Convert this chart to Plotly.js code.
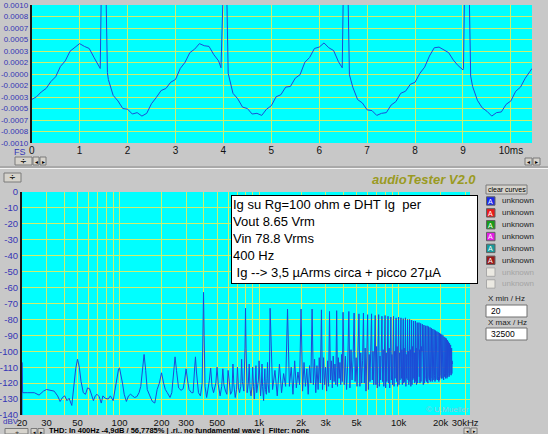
<!DOCTYPE html>
<html><head><meta charset="utf-8">
<script src="https://cdn.plot.ly/plotly-3.0.1.min.js"></script>
<style>html,body{margin:0;padding:0;background:#c8c8c8;overflow:hidden}</style>
</head><body><div id="chart" style="width:548px;height:434px"></div>
<script>
// ---------- top panel: time waveform (ms, A) ----------
const waveT = [
 0.0,0.1,0.2,0.3,0.4,0.5,0.6,0.7,0.8,0.9,
 1.0,1.1,1.2,1.3,1.4,1.43,1.46,1.50,1.54,1.58,
 1.6,1.7,1.8,1.9,2.0,2.1,2.2,2.3,2.4,2.5,
 2.6,2.7,2.8,2.9,3.0,3.1,3.2,3.3,3.4,3.5,
 3.6,3.7,3.8,3.9,3.95,3.98,4.02,4.06,4.10,4.2,
 4.3,4.4,4.5,4.6,4.7,4.8,4.9,5.0,5.1,5.2,
 5.3,5.4,5.5,5.6,5.7,5.8,5.9,6.0,6.1,6.2,
 6.3,6.4,6.48,6.51,6.55,6.59,6.63,6.7,6.8,6.9,
 7.0,7.1,7.2,7.3,7.4,7.5,7.6,7.7,7.8,7.9,
 8.0,8.1,8.2,8.3,8.4,8.5,8.6,8.7,8.8,8.9,
 9.0,9.01,9.04,9.08,9.12,9.16,9.2,9.3,9.4,9.5,
 9.6,9.7,9.8,9.9,10.0,10.1,10.2,10.3,10.4,10.44];
const waveA = [
 -0.00037,-0.00033,-0.00026,-0.00021,-0.00011,-0.00004,0.00011,0.00019,0.00033,0.00038,
 0.00044,0.00040,0.00037,0.00024,0.00012,0.00008,0.0016,0.0018,0.0016,0.00002,
 -0.00008,-0.00031,-0.00039,-0.00050,-0.00051,-0.00058,-0.00056,-0.00061,-0.00057,-0.00043,
 -0.00034,-0.00024,-0.00021,-0.00012,-0.00008,0.00008,0.00017,0.00031,0.00036,0.00044,
 0.00041,0.00040,0.00028,0.00019,0.00009,0.0016,0.0018,0.0016,0.00001,-0.00028,
 -0.00036,-0.00048,-0.00050,-0.00058,-0.00057,-0.00060,-0.00051,-0.00046,-0.00033,-0.00030,
 -0.00019,-0.00018,-0.00006,-0.00001,0.00017,0.00024,0.00037,0.00039,0.00045,0.00038,
 0.00034,0.00018,0.00009,0.0016,0.0018,0.0016,-0.00001,-0.00019,-0.00037,-0.00042,
 -0.00052,-0.00053,-0.00060,-0.00057,-0.00056,-0.00045,-0.00040,-0.00028,-0.00025,-0.00015,
 -0.00012,0.00001,0.00010,0.00026,0.00038,0.00039,0.00035,0.00031,0.00020,0.00012,
 0.00006,0.00008,0.0016,0.0018,0.0016,-0.00003,-0.00018,-0.00038,-0.00049,-0.00054,
 -0.00061,-0.00056,-0.00055,-0.00044,-0.00039,-0.00025,-0.00019,-0.00006,0.00004,0.00008];
const waveTickVals = [-0.001,-0.00083333,-0.00066667,-0.0005,-0.00033333,-0.00016667,0,0.00016667,0.00033333,0.0005,0.00066667,0.00083333,0.001];
const waveTickText = ['-0.0010','-0.0008','-0.0007','-0.0005','-0.0003','-0.0002','-0.0000','0.0002','0.0003','0.0005','0.0007','0.0008','0.0010'];
const timeTickVals = [0,1,2,3,4,5,6,7,8,9,10];
const timeTickText = ['0','1','2','3','4','5','6','7','8','9','10ms'];

// ---------- bottom panel: spectrum (Hz, dBV) ----------
const specLowF = [
 20,20,20.2,22,24.5,26.5,28.5,30,32,34,
 36,37.5,39,40.5,42,43.5,45.5,47,48.5,50,
 51.5,53,55,57,59,61,63,65,67,69,
 71.5,74,76,79,83,86,90,93,96,98.5,
 100,102,105,108,112,116,120,124,128,133,
 138,142,146,150,154,158,165,172,179,186,
 193,200,207,213,220,230,237,244,250,256,
 265,276,286,293,300,307,315,328,337,344,
 350,356,368,380,391,396,400,404,410,421,
 432,440,450,460,472,490,500,510,526,540,
 550,560,575,588,600,612,625,640,650,660,
 675,690,700,712,725,740,750,760,778,793,
 800,807,822,838,850,862,876,890,900,912,
 925,938,950,962,976,990,1000,1010,1025,1040,
 1050,1060,1078,1090,1100,1112,1128,1140,1150,1162,
 1180,1192];
const specLowDb = [
 -140,-107,-126,-126,-126,-127.5,-125,-124,-124.5,-125,
 -128,-131.5,-129,-128,-131,-129.5,-134,-122,-111,-105,
 -110,-119,-126,-127,-123,-123.5,-128,-131,-128,-127,
 -128.5,-132.5,-128,-129.5,-130,-128,-131,-124,-117,-111,
 -110.5,-114,-120,-127,-131.5,-128,-127,-128,-129,-128.5,
 -126,-122,-112,-102,-112,-124,-128,-131.5,-132.5,-124,
 -120,-113.5,-120,-124,-126,-129,-126,-112,-103.5,-112,
 -123,-124.5,-123.5,-118,-111,-118,-124,-126,-126,-113,
 -103.5,-113,-126,-128,-120,-90,-63,-90,-122,-129,
 -124,-118.5,-110.5,-122,-126,-120,-110,-121,-128,-122,
 -111,-121,-125,-127,-112,-122,-127,-125,-108,-121,
 -129,-124,-110,-123,-126,-122,-105,-119,-125,-98,
 -73,-98,-126,-120,-108,-124,-128,-122,-110,-122,
 -130,-121,-109,-126,-123,-118,-106,-119,-128,-120,
 -108,-122,-131,-119,-111,-124,-127,-117,-107,-121,
 -126,-100];
const specMidF = [
 1200,1250,1300,1350,1400,1450,1500,1550,
 1600,1650,1700,1750,1800,1850,1900,1950,
 2000,2050,2100,2150,2200,2250,2300,2350,
 2400,2450,2500,2550,2600,2650,2700,2750,
 2800,2850,2900,2950,3000,3050,3100,3150,
 3200,3250,3300,3350,3400,3450,3500,3550,
 3600,3650,3700,3750,3800,3850,3900,3950];
const specMidDb = [
 -73,-124,-112,-128,-108,-126,-114,-122,
 -73.5,-122,-110,-127,-106,-123,-113,-121,
 -73.5,-125,-107,-122,-111,-127,-109,-120,
 -73.5,-121,-105,-126,-109,-124,-104,-120,
 -74,-124,-104,-121,-110,-125,-106,-122,
 -75,-118,-106,-123,-103,-119,-108,-121,
 -74.5,-122,-104,-117,-107,-121,-102,-119];
const harmF = [
 4000,4400,4800,5200,5600,6000,6400,6800,7200,7600,
 8000,8400,8800,9200,9600,10000,10400,10800,11200,11600,
 12000,12400,12800,13200,13600,14000,14400,14800,15200,15600,
 16000,16400,16800,17200,17600,18000,18400,18800,19200,19600,
 20000,20400,20800,21200,21600,22000,22400,22800,23200,23600,
 24000];
const harmDb = [
 -75.5,-75,-76,-76.5,-76,-77,-76.5,-77.5,-77,-78,
 -77.5,-78,-78.5,-78,-79,-78.5,-79,-79.5,-79,-80,
 -80,-80.5,-81,-81,-82,-82,-82.5,-83,-83.5,-84,
 -84,-84.5,-85,-85.5,-86,-86.5,-87,-87.5,-88,-88.5,
 -89,-89.5,-90,-91,-91.5,-92,-93,-94,-95,-96,
 -98];
const gapFloorDb = [
 -121,-123,-119,-122,-120,-124,-118,-121,-122,-119,
 -123,-120,-118,-122,-119,-121,-117,-120,-122,-118,
 -119,-121,-117,-119,-120,-116,-119,-118,-120,-117,
 -118,-116,-119,-117,-118,-115,-118,-117,-116,-118,
 -115,-117,-116,-114,-117,-115,-116,-114,-115,-113,
 -114];
const gapSubDb = [
 -103,-99,-104,-101,-98,-102,-100,-97,-103,-99,
 -101,-98,-102,-100,-97,-101,-99,-98,-102,-100,
 -99,-97,-101,-98,-100,-99,-97,-100,-98,-101,
 -99,-97,-100,-98,-99,-101,-98,-100,-99,-97,
 -100,-98,-101,-99,-100,-102,-100,-103,-101,-104,
 -106];
const gapFloor2Db = [
 -124,-118,-122,-120,-125,-119,-121,-123,-118,-122,
 -119,-123,-121,-117,-122,-118,-121,-119,-117,-121,
 -122,-118,-120,-121,-117,-120,-118,-121,-116,-119,
 -120,-118,-116,-119,-117,-119,-116,-118,-119,-115,
 -117,-115,-118,-116,-114,-117,-114,-116,-113,-115,
 -113];
const gapSub2Db = [
 -108,-105,-101,-106,-103,-100,-104,-102,-99,-105,
 -102,-104,-100,-103,-101,-98,-103,-100,-104,-99,
 -102,-100,-103,-99,-101,-102,-100,-98,-102,-99,
 -101,-100,-98,-101,-100,-98,-101,-99,-98,-101,
 -99,-101,-99,-102,-101,-99,-103,-101,-104,-102,
 -108];
const freqTickVals = [20,30,40,50,60,70,80,90,100,200,300,400,500,600,700,800,900,1000,2000,3000,4000,5000,6000,7000,8000,9000,10000,20000,30000];
const freqTickText = ['20','30','','50','','','','','100','200','300','','500','','','','','1k','2k','3k','','5k','','','','','10k','20k','30kHz'];
const dbTickVals = [0,-10,-20,-30,-40,-50,-60,-70,-80,-90,-100,-110,-120,-130,-140];
const dbTickText = ['0','-10','-20','-30','-40','-50','-60','-70','-80','-90','-100','-110','-120','-130','-140'];

const noteLines = ['Ig su Rg=100 ohm e DHT Ig\u00a0\u00a0per','Vout 8.65 Vrm','Vin 78.8 Vrms','400 Hz','\u00a0Ig --> 3,5 µArms circa + picco 27µA'];
const legendNames = ['unknown','unknown','unknown','unknown','unknown','unknown','unknown','unknown'];
const statusText = 'THD: In 400Hz -4,9dB / 56,7785% | .ri.. no fundamental wave |  Filter: none';

// ---------- build spectrum line ----------
const specF = specLowF.concat(specMidF);
const specDb = specLowDb.concat(specMidDb);
for (let i = 0; i < harmF.length; i++) {
  specF.push(harmF[i]); specDb.push(harmDb[i]);
  specF.push(harmF[i] + 80); specDb.push(gapFloorDb[i]);
  specF.push(harmF[i] + 160); specDb.push(gapSubDb[i]);
  specF.push(harmF[i] + 240); specDb.push(gapFloor2Db[i]);
  specF.push(harmF[i] + 320); specDb.push(gapSub2Db[i]);
}

const W = 548, H = 434;
const px = x => x / W, py = y => 1 - y / H;
const GRID = '#cdef6e', BLUE = '#3535b5', LINE = '#1d4bd6';
const FONT = 'Liberation Sans, Arial, sans-serif';
const NARROW = 'Liberation Sans Narrow, Liberation Sans, Arial, sans-serif';

const traces = [
  {x: waveT, y: waveA, type: 'scatter', mode: 'lines', xaxis: 'x', yaxis: 'y',
   line: {color: LINE, width: 1}, hoverinfo: 'skip'},
  {x: specF, y: specDb, type: 'scatter', mode: 'lines', xaxis: 'x2', yaxis: 'y2',
   line: {color: LINE, width: 1}, hoverinfo: 'skip'}
];

const shapes = [];
const ann = [];
function txt(x, y, s, o) {
  ann.push(Object.assign({xref: 'paper', yref: 'paper', x: px(x), y: py(y), text: s, showarrow: false,
    xanchor: 'left', yanchor: 'middle', font: {family: FONT, size: 9, color: '#000'}}, o || {}));
}
function rect(x0, y0, x1, y1, fill, lc) {
  shapes.push({type: 'rect', xref: 'paper', yref: 'paper', x0: px(x0), x1: px(x1), y0: py(y1), y1: py(y0),
    fillcolor: fill, line: {color: lc || '#808080', width: 1}, layer: 'above'});
}
function hline(y, x0, x1, c) {
  shapes.push({type: 'line', xref: 'paper', yref: 'paper', x0: px(x0), x1: px(x1), y0: py(y), y1: py(y),
    line: {color: c, width: 1}});
}
// separator between panels
hline(167, 0, 548, '#8a8a8a');
hline(168.5, 0, 548, '#f4f4f4');
// small buttons
function button(x0, y0, x1, y1, label, size) {
  rect(x0, y0, x1, y1, '#d6d3cc', '#7a7a7a');
  txt((x0 + x1) / 2, (y0 + y1) / 2 + 0.3, label, {xanchor: 'center', font: {family: 'DejaVu Sans', size: size || 7, color: '#000'}});
}
button(15, 157, 32, 165, '÷', 8); button(33, 157, 39, 165, '◂', 6); button(40, 157, 46, 165, '▸', 6);
button(4, 173, 21, 182, '÷', 8);
button(525, 158, 532, 165, '◂', 6); button(533, 158, 540, 165, '▸', 6);
button(5, 428.5, 28, 434, '÷', 5); button(31, 428.5, 37, 434, '◂', 5); button(38, 428.5, 44, 434, '▸', 5);
button(464, 428, 470, 434, '◂', 5); button(471, 428, 477, 434, '▸', 5);

// axis side labels
txt(28, 152, 'FS', {xanchor: 'right', font: {family: FONT, size: 9, color: BLUE}});
txt(1, 421.5, 'dBV', {xanchor: 'left', font: {family: FONT, size: 8, color: BLUE}});
// title
txt(424, 179.5, '<b><i>audioTester V2.0</i></b>', {xanchor: 'center', font: {family: FONT, size: 13, color: '#9a9a22'}});
// watermark
txt(471, 409.5, '© U.Mueller', {xanchor: 'right', font: {family: FONT, size: 8, color: '#98cbd8'}});
// note box
ann.push({xref: 'paper', yref: 'paper', x: px(231), y: py(195), xanchor: 'left', yanchor: 'top',
  text: noteLines.join('<br>'), showarrow: false, align: 'left', valign: 'top',
  width: 243, height: 85, bgcolor: '#ffffff', bordercolor: '#000', borderwidth: 1, borderpad: 1,
  font: {family: FONT, size: 13, color: '#000'}});
// right panel
rect(486, 185, 527, 194, '#d6d3cc', '#7a7a7a');
txt(506.5, 189.7, 'clear curves', {xanchor: 'center', font: {family: FONT, size: 7, color: '#000'}});
const sqFill = ['#1b28e8', '#e81b1b', '#1a9a1a', '#e21ee2', '#1a9a9a', '#9a1a1a', '#ebe9e2', '#ebe9e2'];
for (let i = 0; i < legendNames.length; i++) {
  const yc = 201 + i * 11.85;
  const active = i < 6;
  rect(486.5, yc - 4.2, 495, yc + 4.2, sqFill[i], active ? '#606060' : '#a8a8a8');
  if (active) txt(490.8, yc + 0.3, 'A', {xanchor: 'center', font: {family: FONT, size: 7, color: '#ffffff'}});
  txt(499.5, yc, legendNames[i], {font: {family: FONT, size: 8, color: active ? '#222' : '#a4a4a4'}});
}
txt(486, 298.5, 'X min / Hz', {font: {family: FONT, size: 8, color: '#222'}});
rect(486, 305, 527, 317, '#ffffff', '#707070');
txt(489, 311.3, '20', {font: {family: FONT, size: 8.5, color: '#000'}});
txt(486, 322, 'X max / Hz', {font: {family: FONT, size: 8, color: '#222'}});
rect(486, 328, 527, 340, '#ffffff', '#707070');
txt(489, 334.3, '32500', {font: {family: FONT, size: 8.5, color: '#000'}});
// status bar
txt(47, 430.5, '<b>' + statusText + '</b>', {font: {family: FONT, size: 7.5, color: '#000'}});

const axBase = {showgrid: true, gridcolor: GRID, gridwidth: 1, zeroline: false, ticks: '', fixedrange: true,
  showline: false, tickmode: 'array'};
const layout = {
  width: W, height: H, margin: {l: 0, r: 0, t: 0, b: 0}, showlegend: false,
  paper_bgcolor: '#c8c8c8', plot_bgcolor: '#00ffff',
  xaxis: Object.assign({}, axBase, {domain: [px(31.7), px(532)], range: [0, 10.44], anchor: 'y',
    tickvals: timeTickVals, ticktext: timeTickText, tickfont: {family: NARROW, size: 10, color: '#111'}}),
  yaxis: Object.assign({}, axBase, {domain: [py(143), py(5)], range: [-0.001, 0.001], anchor: 'x',
    tickvals: waveTickVals, ticktext: waveTickText, tickfont: {family: FONT, size: 8, color: BLUE},
    showline: true, linecolor: '#141414', linewidth: 2}),
  xaxis2: Object.assign({}, axBase, {type: 'log', domain: [px(22), px(470)], range: [Math.log10(20), Math.log10(32500)],
    anchor: 'y2', tickvals: freqTickVals, ticktext: freqTickText, tickfont: {family: NARROW, size: 9.5, color: '#111'}}),
  yaxis2: Object.assign({}, axBase, {domain: [py(415), py(192)], range: [-140, 0], anchor: 'x2',
    tickvals: dbTickVals, ticktext: dbTickText, tickfont: {family: NARROW, size: 9.5, color: BLUE},
    showline: true, linecolor: '#141414', linewidth: 2}),
  shapes: shapes, annotations: ann
};
Plotly.newPlot('chart', traces, layout, {displayModeBar: false, staticPlot: true});
</script></body></html>
